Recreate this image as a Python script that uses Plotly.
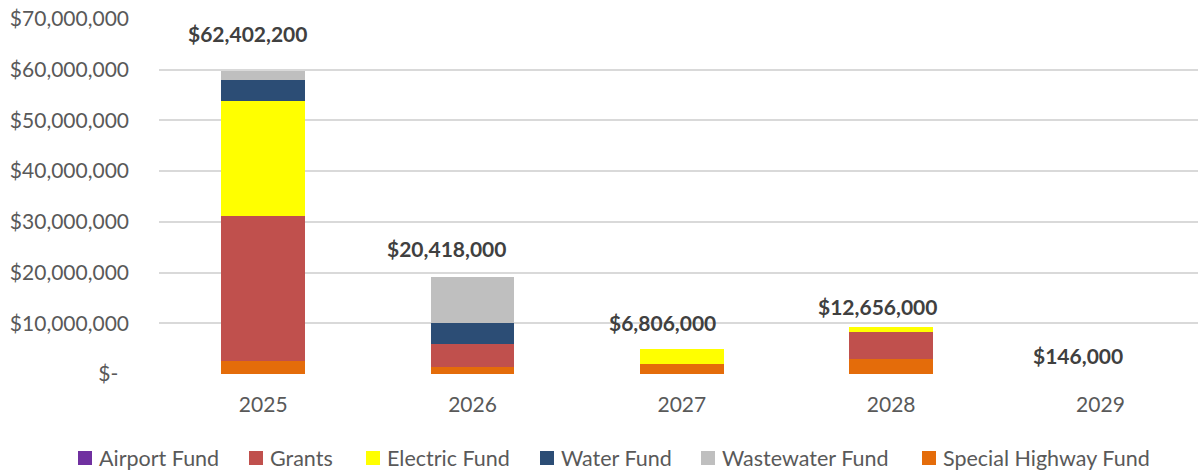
import plotly.graph_objects as go

# Capital funding by source, per fiscal year
years = ["2025", "2026", "2027", "2028", "2029"]

special_highway = [2_500_000, 1_380_000, 1_900_000, 2_960_000, 0]
grants = [28_700_000, 4_540_000, 0, 5_330_000, 0]
electric = [22_600_000, 0, 2_960_000, 930_000, 0]
water = [4_150_000, 4_080_000, 0, 0, 0]
wastewater = [1_800_000, 9_080_000, 0, 0, 0]
airport = [0, 0, 0, 0, 0]

totals = [62_402_200, 20_418_000, 6_806_000, 12_656_000, 146_000]
total_labels = ["$62,402,200", "$20,418,000", "$6,806,000", "$12,656,000", "$146,000"]

y_tickvals = [0, 10_000_000, 20_000_000, 30_000_000, 40_000_000, 50_000_000, 60_000_000, 70_000_000]
y_ticktext = ["$-\u00a0\u00a0", "$10,000,000", "$20,000,000", "$30,000,000", "$40,000,000",
              "$50,000,000", "$60,000,000", "$70,000,000"]

# series drawn bottom to top
stack = [
    ("Special Highway Fund", special_highway, "#E46C0A"),
    ("Grants", grants, "#C0504D"),
    ("Electric Fund", electric, "#FFFF00"),
    ("Water Fund", water, "#2C4D75"),
    ("Wastewater Fund", wastewater, "#BFBFBF"),
    ("Airport Fund", airport, "#7030A0"),
]
legend_order = ["Airport Fund", "Grants", "Electric Fund", "Water Fund",
                "Wastewater Fund", "Special Highway Fund"]
colors = {name: c for name, _, c in stack}

FONT = "Lato"
TEXT = "#595959"

W, H = 1198, 470
ML, MR, MT, MB = 159, 0, 19, 96
PW, PH = W - ML - MR, H - MT - MB


def px_x(px):
    return (px - ML) / PW


def px_y(py):
    return (H - MB - py) / PH


fig = go.Figure()
for name, vals, color in stack:
    fig.add_trace(go.Bar(
        x=years, y=vals, name=name, width=0.40,
        marker=dict(color=color, line=dict(width=0)),
        showlegend=False, hoverinfo="x+y+name",
    ))

# total labels above each column
label_xshift = [-16, -26, -19, -14, -22]
label_yshift = [24, 22, 17, 3, 18]
annotations = []
for i, (tot, txt, dx, dy) in enumerate(zip(totals, total_labels, label_xshift, label_yshift)):
    annotations.append(dict(
        x=i, y=tot, text="<b>" + txt + "</b>", showarrow=False, xref="x", yref="y",
        xanchor="center", yanchor="middle", xshift=dx, yshift=dy,
        font=dict(family=FONT, size=21, color="#404040"),
    ))

# legend row along the bottom
legend_marker_px = [78, 249, 366, 540, 701, 922]
shapes = []
for name, mx in zip(legend_order, legend_marker_px):
    shapes.append(dict(
        type="rect", xref="paper", yref="paper",
        x0=px_x(mx), x1=px_x(mx + 14), y0=px_y(465), y1=px_y(451),
        fillcolor=colors[name], line=dict(width=0),
    ))
    annotations.append(dict(
        x=px_x(mx + 19), y=px_y(458), xref="paper", yref="paper",
        text=name, showarrow=False, xanchor="left", yanchor="middle",
        font=dict(family=FONT, size=21.5, color=TEXT),
    ))

fig.update_layout(
    barmode="stack",
    width=W, height=H,
    margin=dict(l=ML, r=MR, t=MT, b=MB, pad=0),
    paper_bgcolor="white", plot_bgcolor="white",
    font=dict(family=FONT, size=21, color=TEXT),
    bargap=0.6,
    annotations=annotations,
    shapes=shapes,
    xaxis=dict(
        type="category", range=[-0.498, 4.466],
        showgrid=False, zeroline=False, showline=False, ticks="",
        ticklabelstandoff=16,
        tickfont=dict(family=FONT, size=21, color=TEXT),
    ),
    yaxis=dict(
        range=[0, 70_000_000], tickvals=y_tickvals, ticktext=y_ticktext,
        showgrid=True, gridcolor="#D9D9D9", gridwidth=1.5,
        zeroline=False, showline=False, ticks="",
        ticklabelstandoff=29,
        tickfont=dict(family=FONT, size=21, color=TEXT),
    ),
)

fig.write_html("out.html")
